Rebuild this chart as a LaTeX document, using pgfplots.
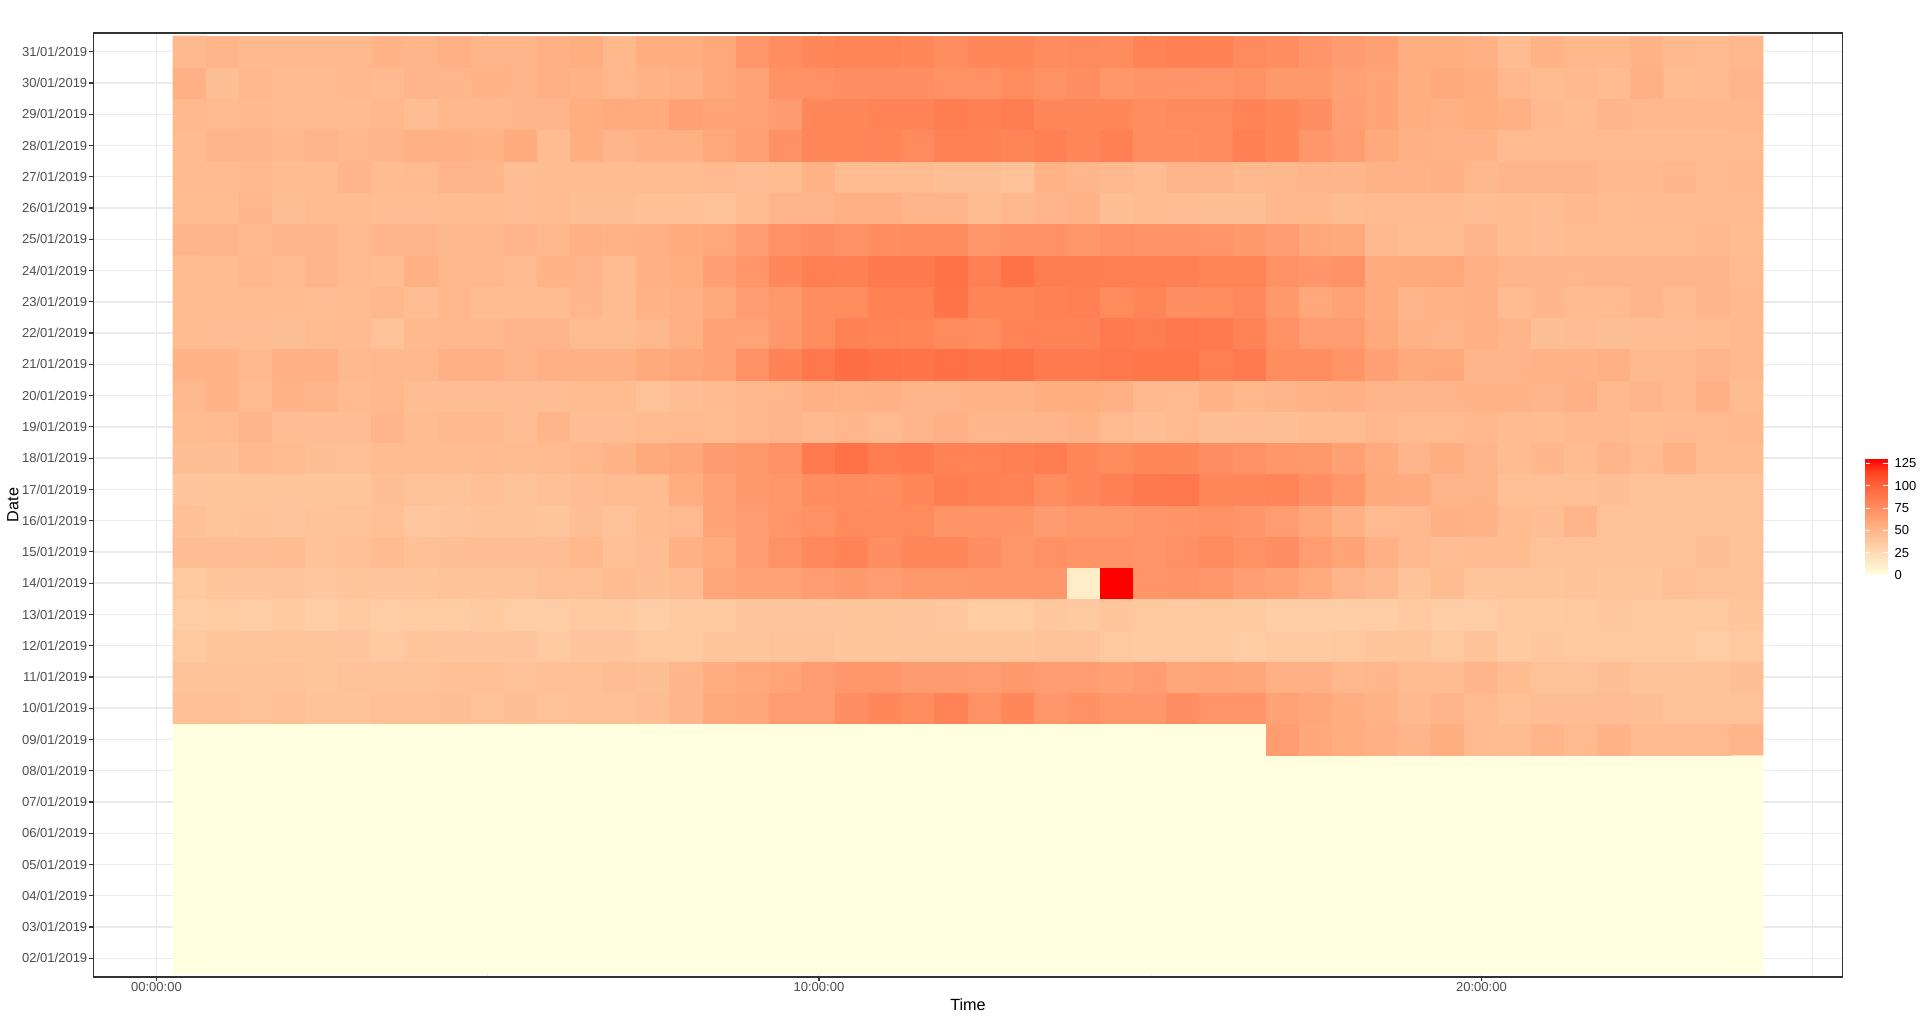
\documentclass[border=0pt]{standalone}
\usepackage{fontspec}
\setmainfont{Liberation Sans}
\usepackage{pgfplots}
\usepackage{pgfplotstable}
\pgfplotsset{compat=1.18}
\definecolor{gray20}{HTML}{333333}
\definecolor{gray30}{HTML}{4D4D4D}
\definecolor{gray92}{HTML}{EBEBEB}

% x = time of day (h), y = day index (1 = 02/01 ... 30 = 31/01), c = count
\pgfplotstableread[row sep=\\]{
x y c\\
0.5 1 0\\ 1 1 0\\ 1.5 1 0\\ 2 1 0\\ 2.5 1 0\\ 3 1 0\\ 3.5 1 0\\ 4 1 0\\ 4.5 1 0\\ 5 1 0\\ 5.5 1 0\\ 6 1 0\\
6.5 1 0\\ 7 1 0\\ 7.5 1 0\\ 8 1 0\\ 8.5 1 0\\ 9 1 0\\ 9.5 1 0\\ 10 1 0\\ 10.5 1 0\\ 11 1 0\\ 11.5 1 0\\ 12 1 0\\
12.5 1 0\\ 13 1 0\\ 13.5 1 0\\ 14 1 0\\ 14.5 1 0\\ 15 1 0\\ 15.5 1 0\\ 16 1 0\\ 16.5 1 0\\ 17 1 0\\ 17.5 1 0\\ 18 1 0\\
18.5 1 0\\ 19 1 0\\ 19.5 1 0\\ 20 1 0\\ 20.5 1 0\\ 21 1 0\\ 21.5 1 0\\ 22 1 0\\ 22.5 1 0\\ 23 1 0\\ 23.5 1 0\\ 24 1 0\\
0.5 2 0\\ 1 2 0\\ 1.5 2 0\\ 2 2 0\\ 2.5 2 0\\ 3 2 0\\ 3.5 2 0\\ 4 2 0\\ 4.5 2 0\\ 5 2 0\\ 5.5 2 0\\ 6 2 0\\
6.5 2 0\\ 7 2 0\\ 7.5 2 0\\ 8 2 0\\ 8.5 2 0\\ 9 2 0\\ 9.5 2 0\\ 10 2 0\\ 10.5 2 0\\ 11 2 0\\ 11.5 2 0\\ 12 2 0\\
12.5 2 0\\ 13 2 0\\ 13.5 2 0\\ 14 2 0\\ 14.5 2 0\\ 15 2 0\\ 15.5 2 0\\ 16 2 0\\ 16.5 2 0\\ 17 2 0\\ 17.5 2 0\\ 18 2 0\\
18.5 2 0\\ 19 2 0\\ 19.5 2 0\\ 20 2 0\\ 20.5 2 0\\ 21 2 0\\ 21.5 2 0\\ 22 2 0\\ 22.5 2 0\\ 23 2 0\\ 23.5 2 0\\ 24 2 0\\
0.5 3 0\\ 1 3 0\\ 1.5 3 0\\ 2 3 0\\ 2.5 3 0\\ 3 3 0\\ 3.5 3 0\\ 4 3 0\\ 4.5 3 0\\ 5 3 0\\ 5.5 3 0\\ 6 3 0\\
6.5 3 0\\ 7 3 0\\ 7.5 3 0\\ 8 3 0\\ 8.5 3 0\\ 9 3 0\\ 9.5 3 0\\ 10 3 0\\ 10.5 3 0\\ 11 3 0\\ 11.5 3 0\\ 12 3 0\\
12.5 3 0\\ 13 3 0\\ 13.5 3 0\\ 14 3 0\\ 14.5 3 0\\ 15 3 0\\ 15.5 3 0\\ 16 3 0\\ 16.5 3 0\\ 17 3 0\\ 17.5 3 0\\ 18 3 0\\
18.5 3 0\\ 19 3 0\\ 19.5 3 0\\ 20 3 0\\ 20.5 3 0\\ 21 3 0\\ 21.5 3 0\\ 22 3 0\\ 22.5 3 0\\ 23 3 0\\ 23.5 3 0\\ 24 3 0\\
0.5 4 0\\ 1 4 0\\ 1.5 4 0\\ 2 4 0\\ 2.5 4 0\\ 3 4 0\\ 3.5 4 0\\ 4 4 0\\ 4.5 4 0\\ 5 4 0\\ 5.5 4 0\\ 6 4 0\\
6.5 4 0\\ 7 4 0\\ 7.5 4 0\\ 8 4 0\\ 8.5 4 0\\ 9 4 0\\ 9.5 4 0\\ 10 4 0\\ 10.5 4 0\\ 11 4 0\\ 11.5 4 0\\ 12 4 0\\
12.5 4 0\\ 13 4 0\\ 13.5 4 0\\ 14 4 0\\ 14.5 4 0\\ 15 4 0\\ 15.5 4 0\\ 16 4 0\\ 16.5 4 0\\ 17 4 0\\ 17.5 4 0\\ 18 4 0\\
18.5 4 0\\ 19 4 0\\ 19.5 4 0\\ 20 4 0\\ 20.5 4 0\\ 21 4 0\\ 21.5 4 0\\ 22 4 0\\ 22.5 4 0\\ 23 4 0\\ 23.5 4 0\\ 24 4 0\\
0.5 5 0\\ 1 5 0\\ 1.5 5 0\\ 2 5 0\\ 2.5 5 0\\ 3 5 0\\ 3.5 5 0\\ 4 5 0\\ 4.5 5 0\\ 5 5 0\\ 5.5 5 0\\ 6 5 0\\
6.5 5 0\\ 7 5 0\\ 7.5 5 0\\ 8 5 0\\ 8.5 5 0\\ 9 5 0\\ 9.5 5 0\\ 10 5 0\\ 10.5 5 0\\ 11 5 0\\ 11.5 5 0\\ 12 5 0\\
12.5 5 0\\ 13 5 0\\ 13.5 5 0\\ 14 5 0\\ 14.5 5 0\\ 15 5 0\\ 15.5 5 0\\ 16 5 0\\ 16.5 5 0\\ 17 5 0\\ 17.5 5 0\\ 18 5 0\\
18.5 5 0\\ 19 5 0\\ 19.5 5 0\\ 20 5 0\\ 20.5 5 0\\ 21 5 0\\ 21.5 5 0\\ 22 5 0\\ 22.5 5 0\\ 23 5 0\\ 23.5 5 0\\ 24 5 0\\
0.5 6 0\\ 1 6 0\\ 1.5 6 0\\ 2 6 0\\ 2.5 6 0\\ 3 6 0\\ 3.5 6 0\\ 4 6 0\\ 4.5 6 0\\ 5 6 0\\ 5.5 6 0\\ 6 6 0\\
6.5 6 0\\ 7 6 0\\ 7.5 6 0\\ 8 6 0\\ 8.5 6 0\\ 9 6 0\\ 9.5 6 0\\ 10 6 0\\ 10.5 6 0\\ 11 6 0\\ 11.5 6 0\\ 12 6 0\\
12.5 6 0\\ 13 6 0\\ 13.5 6 0\\ 14 6 0\\ 14.5 6 0\\ 15 6 0\\ 15.5 6 0\\ 16 6 0\\ 16.5 6 0\\ 17 6 0\\ 17.5 6 0\\ 18 6 0\\
18.5 6 0\\ 19 6 0\\ 19.5 6 0\\ 20 6 0\\ 20.5 6 0\\ 21 6 0\\ 21.5 6 0\\ 22 6 0\\ 22.5 6 0\\ 23 6 0\\ 23.5 6 0\\ 24 6 0\\
0.5 7 0\\ 1 7 0\\ 1.5 7 0\\ 2 7 0\\ 2.5 7 0\\ 3 7 0\\ 3.5 7 0\\ 4 7 0\\ 4.5 7 0\\ 5 7 0\\ 5.5 7 0\\ 6 7 0\\
6.5 7 0\\ 7 7 0\\ 7.5 7 0\\ 8 7 0\\ 8.5 7 0\\ 9 7 0\\ 9.5 7 0\\ 10 7 0\\ 10.5 7 0\\ 11 7 0\\ 11.5 7 0\\ 12 7 0\\
12.5 7 0\\ 13 7 0\\ 13.5 7 0\\ 14 7 0\\ 14.5 7 0\\ 15 7 0\\ 15.5 7 0\\ 16 7 0\\ 16.5 7 0\\ 17 7 0\\ 17.5 7 0\\ 18 7 0\\
18.5 7 0\\ 19 7 0\\ 19.5 7 0\\ 20 7 0\\ 20.5 7 0\\ 21 7 0\\ 21.5 7 0\\ 22 7 0\\ 22.5 7 0\\ 23 7 0\\ 23.5 7 0\\ 24 7 0\\
0.5 8 0\\ 1 8 0\\ 1.5 8 0\\ 2 8 0\\ 2.5 8 0\\ 3 8 0\\ 3.5 8 0\\ 4 8 0\\ 4.5 8 0\\ 5 8 0\\ 5.5 8 0\\ 6 8 0\\
6.5 8 0\\ 7 8 0\\ 7.5 8 0\\ 8 8 0\\ 8.5 8 0\\ 9 8 0\\ 9.5 8 0\\ 10 8 0\\ 10.5 8 0\\ 11 8 0\\ 11.5 8 0\\ 12 8 0\\
12.5 8 0\\ 13 8 0\\ 13.5 8 0\\ 14 8 0\\ 14.5 8 0\\ 15 8 0\\ 15.5 8 0\\ 16 8 0\\ 16.5 8 0\\ 17 8 66\\ 17.5 8 59\\ 18 8 56\\
18.5 8 53\\ 19 8 51\\ 19.5 8 55\\ 20 8 47\\ 20.5 8 46\\ 21 8 51\\ 21.5 8 47\\ 22 8 52\\ 22.5 8 47\\ 23 8 47\\ 23.5 8 47\\ 24 8 51\\
0.5 9 43\\ 1 9 43\\ 1.5 9 42\\ 2 9 43\\ 2.5 9 41\\ 3 9 41\\ 3.5 9 43\\ 4 9 43\\ 4.5 9 44\\ 5 9 42\\ 5.5 9 44\\ 6 9 42\\
6.5 9 43\\ 7 9 43\\ 7.5 9 45\\ 8 9 50\\ 8.5 9 58\\ 9 9 60\\ 9.5 9 66\\ 10 9 66\\ 10.5 9 75\\ 11 9 80\\ 11.5 9 76\\ 12 9 82\\
12.5 9 73\\ 13 9 80\\ 13.5 9 70\\ 14 9 74\\ 14.5 9 70\\ 15 9 70\\ 15.5 9 75\\ 16 9 71\\ 16.5 9 71\\ 17 9 63\\ 17.5 9 60\\ 18 9 56\\
18.5 9 52\\ 19 9 48\\ 19.5 9 51\\ 20 9 47\\ 20.5 9 43\\ 21 9 45\\ 21.5 9 45\\ 22 9 45\\ 22.5 9 44\\ 23 9 42\\ 23.5 9 42\\ 24 9 42\\
0.5 10 41\\ 1 10 41\\ 1.5 10 41\\ 2 10 42\\ 2.5 10 40\\ 3 10 42\\ 3.5 10 42\\ 4 10 42\\ 4.5 10 43\\ 5 10 43\\ 5.5 10 42\\ 6 10 43\\
6.5 10 43\\ 7 10 45\\ 7.5 10 44\\ 8 10 50\\ 8.5 10 56\\ 9 10 59\\ 9.5 10 62\\ 10 10 66\\ 10.5 10 70\\ 11 10 70\\ 11.5 10 67\\ 12 10 67\\
12.5 10 66\\ 13 10 68\\ 13.5 10 66\\ 14 10 66\\ 14.5 10 64\\ 15 10 66\\ 15.5 10 60\\ 16 10 61\\ 16.5 10 60\\ 17 10 53\\ 17.5 10 53\\ 18 10 49\\
18.5 10 50\\ 19 10 46\\ 19.5 10 46\\ 20 10 51\\ 20.5 10 46\\ 21 10 42\\ 21.5 10 42\\ 22 10 44\\ 22.5 10 41\\ 23 10 41\\ 23.5 10 41\\ 24 10 44\\
0.5 11 37\\ 1 11 40\\ 1.5 11 40\\ 2 11 40\\ 2.5 11 40\\ 3 11 39\\ 3.5 11 36\\ 4 11 40\\ 4.5 11 39\\ 5 11 39\\ 5.5 11 39\\ 6 11 36\\
6.5 11 39\\ 7 11 39\\ 7.5 11 37\\ 8 11 37\\ 8.5 11 40\\ 9 11 40\\ 9.5 11 41\\ 10 11 41\\ 10.5 11 40\\ 11 11 40\\ 11.5 11 40\\ 12 11 40\\
12.5 11 40\\ 13 11 40\\ 13.5 11 41\\ 14 11 41\\ 14.5 11 37\\ 15 11 36\\ 15.5 11 36\\ 16 11 37\\ 16.5 11 35\\ 17 11 36\\ 17.5 11 36\\ 18 11 37\\
18.5 11 40\\ 19 11 40\\ 19.5 11 37\\ 20 11 41\\ 20.5 11 36\\ 21 11 38\\ 21.5 11 37\\ 22 11 37\\ 22.5 11 37\\ 23 11 37\\ 23.5 11 34\\ 24 11 36\\
0.5 12 34\\ 1 12 35\\ 1.5 12 34\\ 2 12 36\\ 2.5 12 34\\ 3 12 36\\ 3.5 12 34\\ 4 12 35\\ 4.5 12 35\\ 5 12 37\\ 5.5 12 34\\ 6 12 34\\
6.5 12 36\\ 7 12 36\\ 7.5 12 34\\ 8 12 36\\ 8.5 12 37\\ 9 12 39\\ 9.5 12 39\\ 10 12 39\\ 10.5 12 40\\ 11 12 40\\ 11.5 12 39\\ 12 12 38\\
12.5 12 35\\ 13 12 35\\ 13.5 12 38\\ 14 12 37\\ 14.5 12 40\\ 15 12 37\\ 15.5 12 36\\ 16 12 37\\ 16.5 12 36\\ 17 12 34\\ 17.5 12 34\\ 18 12 34\\
18.5 12 34\\ 19 12 36\\ 19.5 12 34\\ 20 12 34\\ 20.5 12 36\\ 21 12 36\\ 21.5 12 37\\ 22 12 38\\ 22.5 12 37\\ 23 12 37\\ 23.5 12 37\\ 24 12 40\\
0.5 13 37\\ 1 13 40\\ 1.5 13 39\\ 2 13 39\\ 2.5 13 38\\ 3 13 40\\ 3.5 13 39\\ 4 13 40\\ 4.5 13 41\\ 5 13 41\\ 5.5 13 41\\ 6 13 43\\
6.5 13 43\\ 7 13 46\\ 7.5 13 44\\ 8 13 46\\ 8.5 13 60\\ 9 13 63\\ 9.5 13 63\\ 10 13 66\\ 10.5 13 68\\ 11 13 66\\ 11.5 13 69\\ 12 13 69\\
12.5 13 70\\ 13 13 70\\ 13.5 13 70\\ 14 13 13\\ 14.5 13 130\\ 15 13 71\\ 15.5 13 72\\ 16 13 70\\ 16.5 13 65\\ 17 13 63\\ 17.5 13 57\\ 18 13 51\\
18.5 13 48\\ 19 13 41\\ 19.5 13 46\\ 20 13 40\\ 20.5 13 40\\ 21 13 40\\ 21.5 13 41\\ 22 13 40\\ 22.5 13 40\\ 23 13 43\\ 23.5 13 42\\ 24 13 42\\
0.5 14 45\\ 1 14 45\\ 1.5 14 45\\ 2 14 46\\ 2.5 14 42\\ 3 14 43\\ 3.5 14 47\\ 4 14 43\\ 4.5 14 44\\ 5 14 45\\ 5.5 14 45\\ 6 14 45\\
6.5 14 49\\ 7 14 43\\ 7.5 14 45\\ 8 14 54\\ 8.5 14 57\\ 9 14 66\\ 9.5 14 73\\ 10 14 79\\ 10.5 14 82\\ 11 14 75\\ 11.5 14 80\\ 12 14 80\\
12.5 14 75\\ 13 14 70\\ 13.5 14 74\\ 14 14 72\\ 14.5 14 72\\ 15 14 71\\ 15.5 14 74\\ 16 14 78\\ 16.5 14 73\\ 17 14 75\\ 17.5 14 66\\ 18 14 62\\
18.5 14 53\\ 19 14 48\\ 19.5 14 45\\ 20 14 46\\ 20.5 14 46\\ 21 14 42\\ 21.5 14 42\\ 22 14 42\\ 22.5 14 42\\ 23 14 42\\ 23.5 14 44\\ 24 14 42\\
0.5 15 43\\ 1 15 40\\ 1.5 15 41\\ 2 15 39\\ 2.5 15 41\\ 3 15 42\\ 3.5 15 43\\ 4 15 38\\ 4.5 15 39\\ 5 15 41\\ 5.5 15 41\\ 6 15 40\\
6.5 15 44\\ 7 15 42\\ 7.5 15 46\\ 8 15 47\\ 8.5 15 62\\ 9 15 66\\ 9.5 15 71\\ 10 15 74\\ 10.5 15 78\\ 11 15 78\\ 11.5 15 78\\ 12 15 72\\
12.5 15 72\\ 13 15 72\\ 13.5 15 67\\ 14 15 69\\ 14.5 15 69\\ 15 15 71\\ 15.5 15 72\\ 16 15 74\\ 16.5 15 71\\ 17 15 66\\ 17.5 15 60\\ 18 15 53\\
18.5 15 47\\ 19 15 48\\ 19.5 15 54\\ 20 15 52\\ 20.5 15 46\\ 21 15 45\\ 21.5 15 51\\ 22 15 42\\ 22.5 15 42\\ 23 15 41\\ 23.5 15 42\\ 24 15 42\\
0.5 16 39\\ 1 16 40\\ 1.5 16 40\\ 2 16 40\\ 2.5 16 40\\ 3 16 40\\ 3.5 16 44\\ 4 16 42\\ 4.5 16 41\\ 5 16 43\\ 5.5 16 41\\ 6 16 43\\
6.5 16 45\\ 7 16 46\\ 7.5 16 46\\ 8 16 55\\ 8.5 16 63\\ 9 16 68\\ 9.5 16 70\\ 10 16 76\\ 10.5 16 77\\ 11 16 76\\ 11.5 16 80\\ 12 16 86\\
12.5 16 83\\ 13 16 82\\ 13.5 16 76\\ 14 16 80\\ 14.5 16 84\\ 15 16 88\\ 15.5 16 89\\ 16 16 80\\ 16.5 16 80\\ 17 16 81\\ 17.5 16 75\\ 18 16 70\\
18.5 16 58\\ 19 16 57\\ 19.5 16 51\\ 20 16 51\\ 20.5 16 43\\ 21 16 43\\ 21.5 16 43\\ 22 16 44\\ 22.5 16 42\\ 23 16 42\\ 23.5 16 42\\ 24 16 42\\
0.5 17 44\\ 1 17 44\\ 1.5 17 48\\ 2 17 46\\ 2.5 17 44\\ 3 17 43\\ 3.5 17 46\\ 4 17 46\\ 4.5 17 46\\ 5 17 47\\ 5.5 17 46\\ 6 17 47\\
6.5 17 49\\ 7 17 52\\ 7.5 17 58\\ 8 17 60\\ 8.5 17 67\\ 9 17 69\\ 9.5 17 74\\ 10 17 87\\ 10.5 17 92\\ 11 17 86\\ 11.5 17 87\\ 12 17 82\\
12.5 17 82\\ 13 17 84\\ 13.5 17 86\\ 14 17 80\\ 14.5 17 77\\ 15 17 80\\ 15.5 17 80\\ 16 17 75\\ 16.5 17 73\\ 17 17 70\\ 17.5 17 69\\ 18 17 64\\
18.5 17 57\\ 19 17 51\\ 19.5 17 55\\ 20 17 51\\ 20.5 17 46\\ 21 17 50\\ 21.5 17 46\\ 22 17 51\\ 22.5 17 47\\ 23 17 52\\ 23.5 17 46\\ 24 17 46\\
0.5 18 46\\ 1 18 47\\ 1.5 18 51\\ 2 18 45\\ 2.5 18 45\\ 3 18 45\\ 3.5 18 51\\ 4 18 46\\ 4.5 18 48\\ 5 18 48\\ 5.5 18 45\\ 6 18 51\\
6.5 18 45\\ 7 18 45\\ 7.5 18 47\\ 8 18 47\\ 8.5 18 46\\ 9 18 49\\ 9.5 18 51\\ 10 18 48\\ 10.5 18 50\\ 11 18 47\\ 11.5 18 51\\ 12 18 54\\
12.5 18 50\\ 13 18 50\\ 13.5 18 51\\ 14 18 52\\ 14.5 18 47\\ 15 18 45\\ 15.5 18 47\\ 16 18 44\\ 16.5 18 45\\ 17 18 44\\ 17.5 18 46\\ 18 18 46\\
18.5 18 49\\ 19 18 47\\ 19.5 18 47\\ 20 18 49\\ 20.5 18 47\\ 21 18 46\\ 21.5 18 48\\ 22 18 48\\ 22.5 18 46\\ 23 18 47\\ 23.5 18 47\\ 24 18 48\\
0.5 19 48\\ 1 19 52\\ 1.5 19 47\\ 2 19 52\\ 2.5 19 51\\ 3 19 47\\ 3.5 19 49\\ 4 19 45\\ 4.5 19 45\\ 5 19 45\\ 5.5 19 45\\ 6 19 45\\
6.5 19 46\\ 7 19 46\\ 7.5 19 42\\ 8 19 45\\ 8.5 19 47\\ 9 19 49\\ 9.5 19 50\\ 10 19 53\\ 10.5 19 52\\ 11 19 54\\ 11.5 19 51\\ 12 19 51\\
12.5 19 52\\ 13 19 52\\ 13.5 19 55\\ 14 19 55\\ 14.5 19 53\\ 15 19 48\\ 15.5 19 47\\ 16 19 52\\ 16.5 19 49\\ 17 19 51\\ 17.5 19 52\\ 18 19 53\\
18.5 19 51\\ 19 19 51\\ 19.5 19 51\\ 20 19 52\\ 20.5 19 52\\ 21 19 51\\ 21.5 19 53\\ 22 19 48\\ 22.5 19 51\\ 23 19 48\\ 23.5 19 53\\ 24 19 46\\
0.5 20 52\\ 1 20 52\\ 1.5 20 48\\ 2 20 53\\ 2.5 20 53\\ 3 20 48\\ 3.5 20 49\\ 4 20 49\\ 4.5 20 53\\ 5 20 53\\ 5.5 20 51\\ 6 20 53\\
6.5 20 54\\ 7 20 54\\ 7.5 20 58\\ 8 20 60\\ 8.5 20 63\\ 9 20 74\\ 9.5 20 82\\ 10 20 89\\ 10.5 20 95\\ 11 20 92\\ 11.5 20 91\\ 12 20 93\\
12.5 20 91\\ 13 20 92\\ 13.5 20 87\\ 14 20 87\\ 14.5 20 89\\ 15 20 90\\ 15.5 20 90\\ 16 20 85\\ 16.5 20 87\\ 17 20 76\\ 17.5 20 76\\ 18 20 72\\
18.5 20 64\\ 19 20 58\\ 19.5 20 59\\ 20 20 51\\ 20.5 20 51\\ 21 20 52\\ 21.5 20 52\\ 22 20 53\\ 22.5 20 48\\ 23 20 48\\ 23.5 20 51\\ 24 20 48\\
0.5 21 46\\ 1 21 45\\ 1.5 21 45\\ 2 21 44\\ 2.5 21 46\\ 3 21 47\\ 3.5 21 42\\ 4 21 48\\ 4.5 21 49\\ 5 21 49\\ 5.5 21 51\\ 6 21 51\\
6.5 21 46\\ 7 21 46\\ 7.5 21 49\\ 8 21 53\\ 8.5 21 63\\ 9 21 62\\ 9.5 21 70\\ 10 21 76\\ 10.5 21 83\\ 11 21 82\\ 11.5 21 81\\ 12 21 78\\
12.5 21 76\\ 13 21 82\\ 13.5 21 82\\ 14 21 82\\ 14.5 21 87\\ 15 21 86\\ 15.5 21 89\\ 16 21 87\\ 16.5 21 82\\ 17 21 74\\ 17.5 21 66\\ 18 21 66\\
18.5 21 58\\ 19 21 52\\ 19.5 21 51\\ 20 21 53\\ 20.5 21 51\\ 21 21 44\\ 21.5 21 45\\ 22 21 44\\ 22.5 21 45\\ 23 21 45\\ 23.5 21 46\\ 24 21 48\\
0.5 22 46\\ 1 22 46\\ 1.5 22 46\\ 2 22 46\\ 2.5 22 45\\ 3 22 46\\ 3.5 22 49\\ 4 22 45\\ 4.5 22 49\\ 5 22 46\\ 5.5 22 46\\ 6 22 46\\
6.5 22 50\\ 7 22 46\\ 7.5 22 52\\ 8 22 53\\ 8.5 22 58\\ 9 22 66\\ 9.5 22 69\\ 10 22 76\\ 10.5 22 76\\ 11 22 83\\ 11.5 22 83\\ 12 22 91\\
12.5 22 81\\ 13 22 81\\ 13.5 22 83\\ 14 22 84\\ 14.5 22 78\\ 15 22 81\\ 15.5 22 75\\ 16 22 76\\ 16.5 22 79\\ 17 22 68\\ 17.5 22 59\\ 18 22 63\\
18.5 22 57\\ 19 22 51\\ 19.5 22 52\\ 20 22 53\\ 20.5 22 46\\ 21 22 50\\ 21.5 22 47\\ 22 22 47\\ 22.5 22 51\\ 23 22 47\\ 23.5 22 51\\ 24 22 48\\
0.5 23 46\\ 1 23 46\\ 1.5 23 49\\ 2 23 47\\ 2.5 23 51\\ 3 23 47\\ 3.5 23 46\\ 4 23 53\\ 4.5 23 49\\ 5 23 49\\ 5.5 23 47\\ 6 23 52\\
6.5 23 51\\ 7 23 46\\ 7.5 23 53\\ 8 23 55\\ 8.5 23 65\\ 9 23 71\\ 9.5 23 80\\ 10 23 85\\ 10.5 23 84\\ 11 23 88\\ 11.5 23 88\\ 12 23 92\\
12.5 23 84\\ 13 23 92\\ 13.5 23 86\\ 14 23 86\\ 14.5 23 85\\ 15 23 85\\ 15.5 23 84\\ 16 23 81\\ 16.5 23 81\\ 17 23 73\\ 17.5 23 71\\ 18 23 73\\
18.5 23 57\\ 19 23 58\\ 19.5 23 59\\ 20 23 53\\ 20.5 23 51\\ 21 23 50\\ 21.5 23 50\\ 22 23 51\\ 22.5 23 51\\ 23 23 51\\ 23.5 23 51\\ 24 23 47\\
0.5 24 51\\ 1 24 51\\ 1.5 24 48\\ 2 24 51\\ 2.5 24 51\\ 3 24 47\\ 3.5 24 51\\ 4 24 51\\ 4.5 24 49\\ 5 24 49\\ 5.5 24 51\\ 6 24 49\\
6.5 24 53\\ 7 24 52\\ 7.5 24 54\\ 8 24 57\\ 8.5 24 59\\ 9 24 66\\ 9.5 24 74\\ 10 24 75\\ 10.5 24 73\\ 11 24 76\\ 11.5 24 77\\ 12 24 77\\
12.5 24 70\\ 13 24 74\\ 13.5 24 74\\ 14 24 70\\ 14.5 24 74\\ 15 24 72\\ 15.5 24 72\\ 16 24 71\\ 16.5 24 68\\ 17 24 66\\ 17.5 24 59\\ 18 24 58\\
18.5 24 48\\ 19 24 46\\ 19.5 24 46\\ 20 24 51\\ 20.5 24 46\\ 21 24 45\\ 21.5 24 46\\ 22 24 46\\ 22.5 24 46\\ 23 24 46\\ 23.5 24 48\\ 24 24 46\\
0.5 25 46\\ 1 25 46\\ 1.5 25 50\\ 2 25 44\\ 2.5 25 46\\ 3 25 46\\ 3.5 25 45\\ 4 25 45\\ 4.5 25 46\\ 5 25 46\\ 5.5 25 45\\ 6 25 46\\
6.5 25 44\\ 7 25 44\\ 7.5 25 43\\ 8 25 43\\ 8.5 25 42\\ 9 25 46\\ 9.5 25 51\\ 10 25 51\\ 10.5 25 54\\ 11 25 54\\ 11.5 25 51\\ 12 25 51\\
12.5 25 46\\ 13 25 49\\ 13.5 25 51\\ 14 25 52\\ 14.5 25 44\\ 15 25 46\\ 15.5 25 45\\ 16 25 44\\ 16.5 25 44\\ 17 25 49\\ 17.5 25 49\\ 18 25 46\\
18.5 25 47\\ 19 25 47\\ 19.5 25 47\\ 20 25 45\\ 20.5 25 46\\ 21 25 45\\ 21.5 25 48\\ 22 25 46\\ 22.5 25 47\\ 23 25 47\\ 23.5 25 47\\ 24 25 47\\
0.5 26 47\\ 1 26 47\\ 1.5 26 48\\ 2 26 46\\ 2.5 26 46\\ 3 26 51\\ 3.5 26 46\\ 4 26 47\\ 4.5 26 51\\ 5 26 50\\ 5.5 26 45\\ 6 26 46\\
6.5 26 46\\ 7 26 46\\ 7.5 26 46\\ 8 26 46\\ 8.5 26 47\\ 9 26 45\\ 9.5 26 46\\ 10 26 52\\ 10.5 26 46\\ 11 26 46\\ 11.5 26 46\\ 12 26 44\\
12.5 26 44\\ 13 26 42\\ 13.5 26 52\\ 14 26 50\\ 14.5 26 48\\ 15 26 46\\ 15.5 26 51\\ 16 26 51\\ 16.5 26 48\\ 17 26 49\\ 17.5 26 51\\ 18 26 50\\
18.5 26 52\\ 19 26 52\\ 19.5 26 54\\ 20 26 49\\ 20.5 26 51\\ 21 26 51\\ 21.5 26 51\\ 22 26 48\\ 22.5 26 48\\ 23 26 50\\ 23.5 26 47\\ 24 26 48\\
0.5 27 47\\ 1 27 51\\ 1.5 27 51\\ 2 27 49\\ 2.5 27 51\\ 3 27 49\\ 3.5 27 51\\ 4 27 53\\ 4.5 27 53\\ 5 27 52\\ 5.5 27 57\\ 6 27 46\\
6.5 27 55\\ 7 27 51\\ 7.5 27 54\\ 8 27 54\\ 8.5 27 59\\ 9 27 64\\ 9.5 27 74\\ 10 27 80\\ 10.5 27 80\\ 11 27 81\\ 11.5 27 78\\ 12 27 83\\
12.5 27 83\\ 13 27 81\\ 13.5 27 84\\ 14 27 80\\ 14.5 27 84\\ 15 27 76\\ 15.5 27 76\\ 16 27 78\\ 16.5 27 84\\ 17 27 80\\ 17.5 27 70\\ 18 27 66\\
18.5 27 58\\ 19 27 54\\ 19.5 27 52\\ 20 27 52\\ 20.5 27 47\\ 21 27 47\\ 21.5 27 47\\ 22 27 47\\ 22.5 27 47\\ 23 27 47\\ 23.5 27 47\\ 24 27 47\\
0.5 28 48\\ 1 28 47\\ 1.5 28 48\\ 2 28 47\\ 2.5 28 47\\ 3 28 47\\ 3.5 28 49\\ 4 28 45\\ 4.5 28 49\\ 5 28 49\\ 5.5 28 50\\ 6 28 51\\
6.5 28 55\\ 7 28 57\\ 7.5 28 57\\ 8 28 64\\ 8.5 28 62\\ 9 28 63\\ 9.5 28 67\\ 10 28 80\\ 10.5 28 80\\ 11 28 82\\ 11.5 28 82\\ 12 28 86\\
12.5 28 84\\ 13 28 86\\ 13.5 28 80\\ 14 28 80\\ 14.5 28 80\\ 15 28 76\\ 15.5 28 78\\ 16 28 78\\ 16.5 28 82\\ 17 28 80\\ 17.5 28 75\\ 18 28 65\\
18.5 28 62\\ 19 28 55\\ 19.5 28 54\\ 20 28 55\\ 20.5 28 53\\ 21 28 48\\ 21.5 28 46\\ 22 28 51\\ 22.5 28 49\\ 23 28 49\\ 23.5 28 49\\ 24 28 49\\
0.5 29 53\\ 1 29 44\\ 1.5 29 49\\ 2 29 47\\ 2.5 29 47\\ 3 29 48\\ 3.5 29 47\\ 4 29 51\\ 4.5 29 50\\ 5 29 52\\ 5.5 29 51\\ 6 29 53\\
6.5 29 52\\ 7 29 49\\ 7.5 29 52\\ 8 29 54\\ 8.5 29 59\\ 9 29 63\\ 9.5 29 73\\ 10 29 74\\ 10.5 29 75\\ 11 29 75\\ 11.5 29 75\\ 12 29 74\\
12.5 29 74\\ 13 29 76\\ 13.5 29 73\\ 14 29 75\\ 14.5 29 70\\ 15 29 72\\ 15.5 29 71\\ 16 29 71\\ 16.5 29 73\\ 17 29 68\\ 17.5 29 68\\ 18 29 64\\
18.5 29 62\\ 19 29 55\\ 19.5 29 58\\ 20 29 56\\ 20.5 29 49\\ 21 29 46\\ 21.5 29 48\\ 22 29 46\\ 22.5 29 53\\ 23 29 46\\ 23.5 29 47\\ 24 29 51\\
0.5 30 48\\ 1 30 51\\ 1.5 30 48\\ 2 30 48\\ 2.5 30 48\\ 3 30 48\\ 3.5 30 52\\ 4 30 51\\ 4.5 30 54\\ 5 30 51\\ 5.5 30 51\\ 6 30 53\\
6.5 30 55\\ 7 30 49\\ 7.5 30 56\\ 8 30 56\\ 8.5 30 59\\ 9 30 70\\ 9.5 30 76\\ 10 30 80\\ 10.5 30 81\\ 11 30 81\\ 11.5 30 80\\ 12 30 76\\
12.5 30 80\\ 13 30 80\\ 13.5 30 77\\ 14 30 78\\ 14.5 30 77\\ 15 30 82\\ 15.5 30 84\\ 16 30 83\\ 16.5 30 78\\ 17 30 76\\ 17.5 30 71\\ 18 30 67\\
18.5 30 64\\ 19 30 55\\ 19.5 30 55\\ 20 30 53\\ 20.5 30 46\\ 21 30 52\\ 21.5 30 49\\ 22 30 49\\ 22.5 30 52\\ 23 30 48\\ 23.5 30 47\\ 24 30 49\\
}\heat

\begin{document}
\begin{tikzpicture}
\useasboundingbox (-46.75pt,-20pt) rectangle (913.25pt,488.5pt);
\begin{axis}[
  at={(0,0)}, anchor=south west,
  scale only axis, width=874.5pt, height=472pt,
  xmin=-0.95, xmax=25.45, ymin=0.4, ymax=30.6,
  xtick={0,10,20}, xticklabels={00:00:00,10:00:00,20:00:00},
  minor xtick={5,15,25},
  ytick={1,...,30},
  yticklabels={02/01/2019,03/01/2019,04/01/2019,05/01/2019,06/01/2019,07/01/2019,
    08/01/2019,09/01/2019,10/01/2019,11/01/2019,12/01/2019,13/01/2019,14/01/2019,
    15/01/2019,16/01/2019,17/01/2019,18/01/2019,19/01/2019,20/01/2019,21/01/2019,
    22/01/2019,23/01/2019,24/01/2019,25/01/2019,26/01/2019,27/01/2019,28/01/2019,
    29/01/2019,30/01/2019,31/01/2019},
  xmajorgrids, ymajorgrids, xminorgrids,
  major grid style={gray92, line width=0.7pt},
  minor grid style={gray92, line width=0.35pt},
  axis line style={gray20, line width=0.6pt},
  tick pos=left, tick align=outside,
  major tick length=2pt, minor tick length=0pt,
  tick style={gray20, line width=0.6pt},
  ticklabel style={font=\fontsize{6.5}{7.5}\selectfont, text=gray30},
  yticklabel style={xshift=2.4pt},
  xticklabel style={yshift=3pt},
  xlabel={Time}, ylabel={Date},
  xlabel shift=-3pt, ylabel shift=-5pt,
  label style={font=\fontsize{8.1}{9.5}\selectfont},
  colormap={gg}{rgb255=(255,255,224) rgb255=(255,236,201) rgb255=(255,217,179)
    rgb255=(255,198,157) rgb255=(255,179,135) rgb255=(255,159,114) rgb255=(255,138,93)
    rgb255=(255,116,73) rgb255=(255,92,52) rgb255=(255,62,29) rgb255=(255,0,0)},
  point meta min=0, point meta max=130,
  colorbar,
  colorbar style={
    at={(parent axis.south east)}, anchor=south west,
    xshift=3pt, yshift=201pt,
    scale only axis, width=11pt, height=58pt,
    ytick={0,25,50,75,100,125},
    yticklabel pos=right, ytick pos=both,
    tick align=inside, major tick length=2.2pt,
    ytick style={white, line width=0.5pt},
    axis line style={draw=none},
    yticklabel style={font=\fontsize{6.5}{7.5}\selectfont, text=black,
      /pgf/number format/assume math mode=true},
  },
]
\addplot[matrix plot*, mesh/cols=48, point meta=explicit] table[x=x, y=y, meta=c] {\heat};
\end{axis}
\end{tikzpicture}
\end{document}
